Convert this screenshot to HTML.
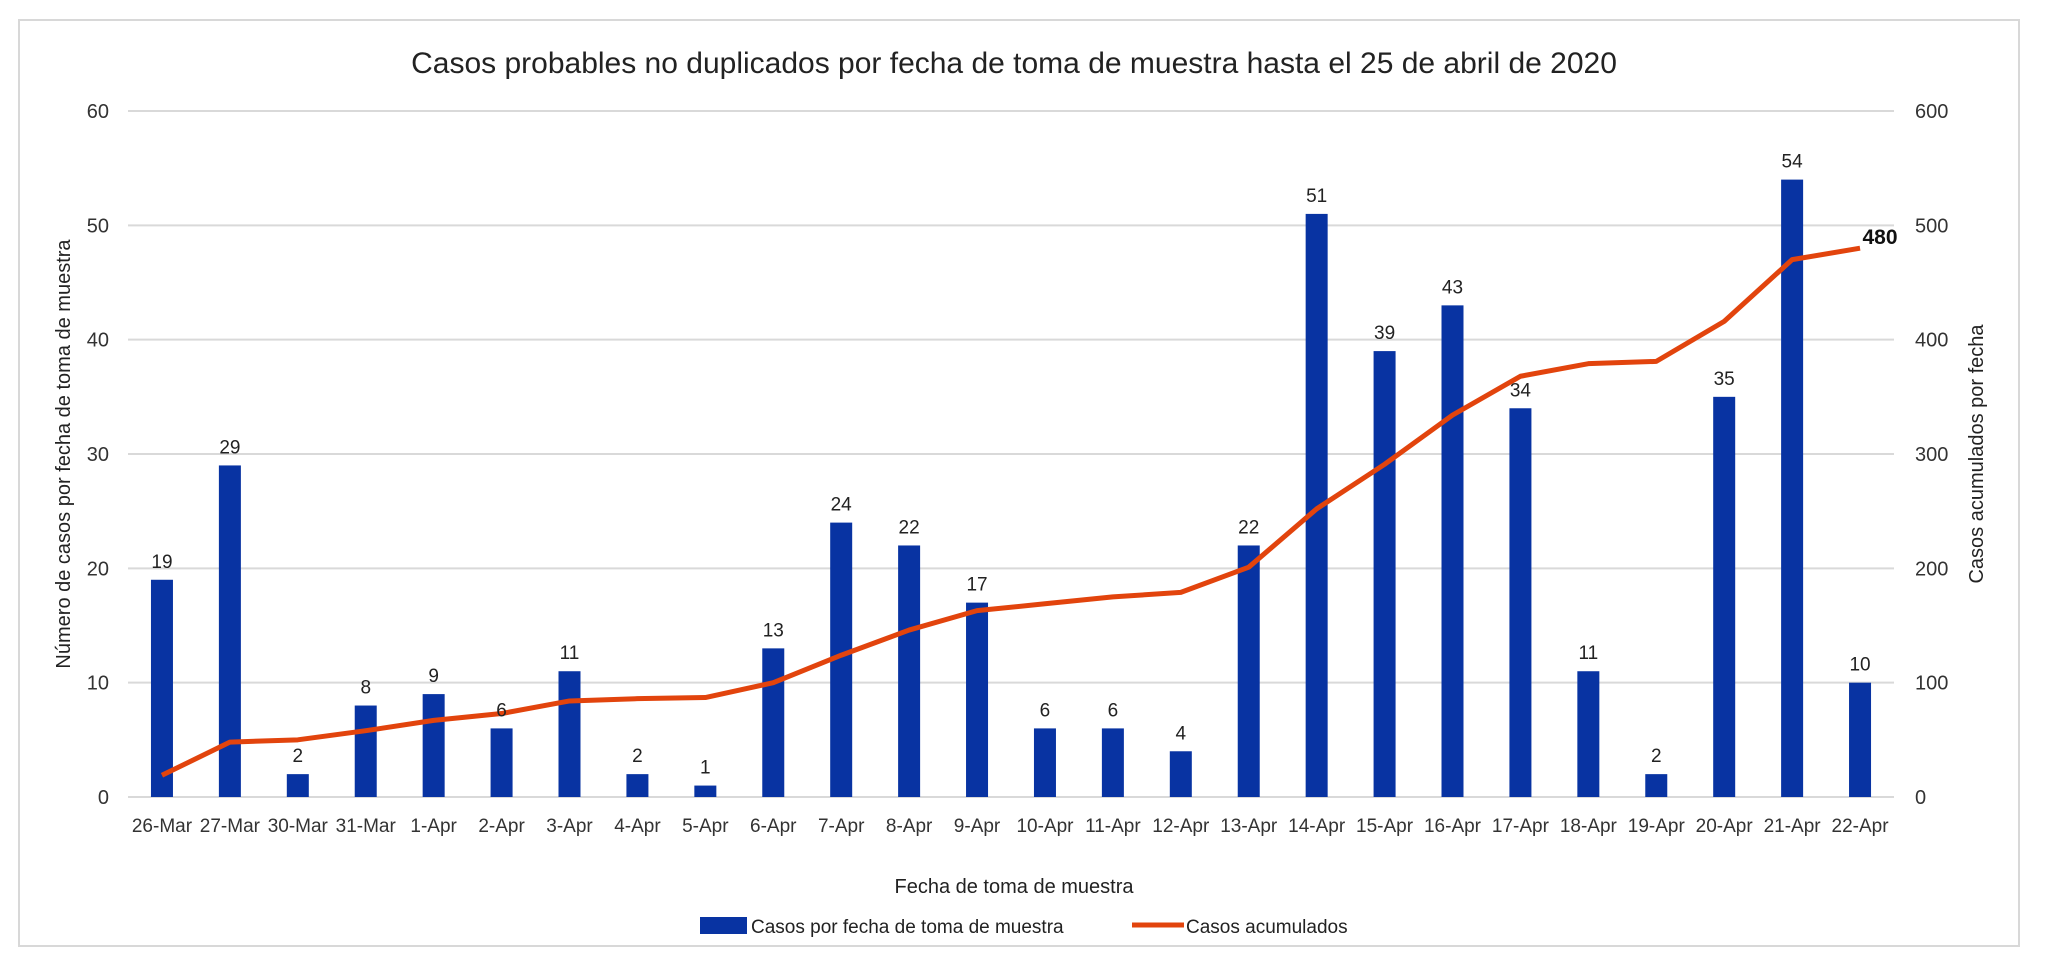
<!DOCTYPE html>
<html><head><meta charset="utf-8"><style>
html,body{margin:0;padding:0;background:#fff;}
svg{display:block;font-family:"Liberation Sans",sans-serif;}
</style></head><body>
<svg id="chart" width="2048" height="959">
<rect x="19" y="20" width="2000" height="926" fill="#fff" stroke="#d8d8d8" stroke-width="2"/>
<text x="1014" y="73" font-size="30" text-anchor="middle" fill="#222">Casos probables no duplicados por fecha de toma de muestra hasta el 25 de abril de 2020</text>
<g id="grid"></g><g id="bars"></g><g id="line"></g><g id="labels"></g>
<text transform="translate(70,454) rotate(-90)" font-size="20" text-anchor="middle" fill="#222">Número de casos por fecha de toma de muestra</text>
<text transform="translate(1983,454) rotate(-90)" font-size="20" text-anchor="middle" fill="#222">Casos acumulados por fecha</text>
<text x="1014" y="893" font-size="20" text-anchor="middle" fill="#222">Fecha de toma de muestra</text>
<g>
<rect x="700" y="917" width="47" height="17" fill="#0833a2"/>
<text x="751" y="933" font-size="19" fill="#222">Casos por fecha de toma de muestra</text>
<line x1="1132" y1="925" x2="1184" y2="925" stroke="#e2440d" stroke-width="5"/>
<text x="1186" y="933" font-size="19" fill="#222">Casos acumulados</text>
</g>
</svg>
<script>
const categories=["26-Mar","27-Mar","30-Mar","31-Mar","1-Apr","2-Apr","3-Apr","4-Apr","5-Apr","6-Apr","7-Apr","8-Apr","9-Apr","10-Apr","11-Apr","12-Apr","13-Apr","14-Apr","15-Apr","16-Apr","17-Apr","18-Apr","19-Apr","20-Apr","21-Apr","22-Apr"];
const dailyCases=[19,29,2,8,9,6,11,2,1,13,24,22,17,6,6,4,22,51,39,43,34,11,2,35,54,10];
const cumulativeCases=[19,48,50,58,67,73,84,86,87,100,124,146,163,169,175,179,201,252,291,334,368,379,381,416,470,480];
const leftTicks=[0,10,20,30,40,50,60];
const rightTicks=[0,100,200,300,400,500,600];

const NS="http://www.w3.org/2000/svg";
const X0=128,X1=1894,Y0=797,Y1=111;
const step=(X1-X0)/categories.length;
const x=i=>X0+step*(i+0.5);
const yL=v=>Y0-(v/60)*(Y0-Y1);
const yR=v=>Y0-(v/600)*(Y0-Y1);
function mk(tag,attrs,parent,txt){const e=document.createElementNS(NS,tag);for(const k in attrs)e.setAttribute(k,attrs[k]);if(txt!==undefined)e.textContent=txt;parent.appendChild(e);return e;}
const grid=document.getElementById('grid'),bars=document.getElementById('bars'),line=document.getElementById('line'),labels=document.getElementById('labels');
leftTicks.forEach((t,i)=>{
  const g=mk('line',{x1:X0,x2:X1,y1:yL(t),y2:yL(t),stroke:'#d9d9d9','stroke-width':2},grid);
  
  
  const a=mk('text',{x:109,y:yL(t)+7,'font-size':20,'text-anchor':'end',fill:'#333'},labels,t);
  
  
  const b=mk('text',{x:1915,y:yR(rightTicks[i])+7,'font-size':20,'text-anchor':'start',fill:'#333'},labels,rightTicks[i]);
  
  
});
const bw=22;
dailyCases.forEach((v,i)=>{
  const r=mk('rect',{x:x(i)-bw/2,y:yL(v),width:bw,height:Y0-yL(v),fill:'#0833a2'},bars);
  
  
  const t=mk('text',{x:x(i),y:yL(v)-12,'font-size':19,'text-anchor':'middle',fill:'#222'},labels,v);
  
  
  const c=mk('text',{x:x(i),y:832,'font-size':19,'text-anchor':'middle',fill:'#333'},labels,categories[i]);
  
  
});
const pts=cumulativeCases.map((v,i)=>x(i)+','+yR(v)).join(' ');
const pl=mk('polyline',{points:pts,fill:'none',stroke:'#e2440d','stroke-width':5,'stroke-linejoin':'round'},line);


const last=cumulativeCases.length-1;
const lt=mk('text',{x:x(last)+20,y:yR(cumulativeCases[last])-4,'font-size':21,'font-weight':'bold','text-anchor':'middle',fill:'#111'},labels,cumulativeCases[last]);


</script>
</body></html>
